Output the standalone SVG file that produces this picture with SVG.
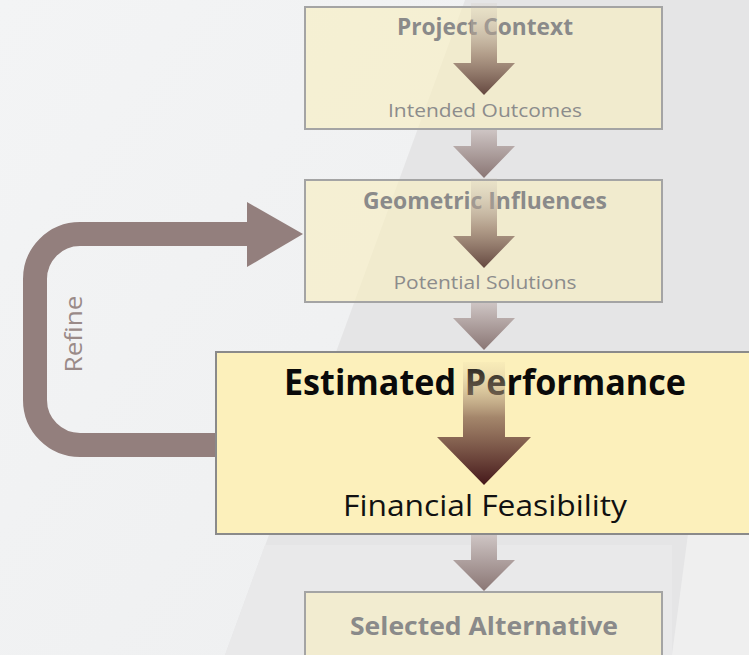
<svg xmlns="http://www.w3.org/2000/svg" width="749" height="655" viewBox="0 0 749 655">
<defs>
<linearGradient id="inFaded" x1="0" y1="0" x2="0" y2="1">
<stop offset="0" stop-color="#c9bfb2" stop-opacity="0.15"/>
<stop offset="0.55" stop-color="#a8917f" stop-opacity="0.85"/>
<stop offset="1" stop-color="#654840"/>
</linearGradient>
<linearGradient id="inMain" x1="0" y1="0" x2="0" y2="1">
<stop offset="0" stop-color="#d8c6a0" stop-opacity="0.1"/>
<stop offset="0.45" stop-color="#9a7a62" stop-opacity="0.9"/>
<stop offset="1" stop-color="#45181a"/>
</linearGradient>
<linearGradient id="between" x1="0" y1="0" x2="0" y2="1">
<stop offset="0" stop-color="#cfc6c5"/>
<stop offset="1" stop-color="#8a7674"/>
</linearGradient>
<linearGradient id="bgL" x1="0" y1="0" x2="1" y2="1">
<stop offset="0" stop-color="#f3f4f5"/>
<stop offset="1" stop-color="#eeeff0"/>
</linearGradient>
</defs>
<style>
.faded{fill:#f8eebe;fill-opacity:0.6;stroke:#a4a4a4;stroke-width:2}
.main{fill:#fcf0bb;stroke:#8a8a8a;stroke-width:2}
.t{font-family:"Open Sans","Liberation Sans",sans-serif;text-anchor:middle}
.fh{font-weight:bold;fill:#8a8a8a}
.fs{fill:#8c8c8c}
.mh{font-weight:bold;fill:#0a0a0a}
.ms{fill:#111}
</style>
<rect width="749" height="655" fill="#e5e5e6"/>
<polygon points="0,0 465,0 225,655 0,655" fill="url(#bgL)"/>
<polygon points="225,655 265,545 672,545 672,655" fill="#e9e9ea"/>
<polygon points="688,534 749,534 749,655 672,655" fill="#efefef"/>

<g id="connectors">
<path d="M216,445 L80,445 A45,45 0 0 1 35,400 L35,279 A45,45 0 0 1 80,234 L250,234" fill="none" stroke="#937f7d" stroke-width="24"/>
<polygon points="247,202 303,234 247,267" fill="#937f7d"/>
<path d="M471,129 L497,129 L497,146 L515,146 L484,178 L453,146 L471,146 Z" fill="url(#between)"/>
<path d="M471,302 L497,302 L497,318 L515,318 L484,350 L453,318 L471,318 Z" fill="url(#between)"/>
<path d="M471,534 L497,534 L497,560 L515,560 L484,591 L453,560 L471,560 Z" fill="url(#between)"/>
</g>

<g id="node-project-context">
<rect class="faded" x="305" y="7" width="357" height="122"/>
<text class="t fh" x="485" y="35" font-size="23" textLength="176" lengthAdjust="spacingAndGlyphs">Project Context</text>
<path d="M471,3 L497,3 L497,63 L515,63 L484,95 L453,63 L471,63 Z" fill="url(#inFaded)"/>
<text class="t fs" x="485" y="117" font-size="19" textLength="194" lengthAdjust="spacingAndGlyphs">Intended Outcomes</text>
</g>

<g id="node-geometric-influences">
<rect class="faded" x="305" y="180" width="357" height="122"/>
<text class="t fh" x="485" y="209" font-size="23" textLength="244" lengthAdjust="spacingAndGlyphs">Geometric Influences</text>
<path d="M471,178 L497,178 L497,236 L515,236 L484,268 L453,236 L471,236 Z" fill="url(#inFaded)"/>
<text class="t fs" x="485" y="289" font-size="19" textLength="183" lengthAdjust="spacingAndGlyphs">Potential Solutions</text>
</g>

<g id="node-estimated-performance">
<rect class="main" x="216" y="352" width="540" height="182"/>
<text class="t mh" x="485" y="395" font-size="35" textLength="402" lengthAdjust="spacingAndGlyphs">Estimated Performance</text>
<path d="M463,362 L505,362 L505,437 L531,437 L484,485 L437,437 L463,437 Z" fill="url(#inMain)"/>
<text class="t ms" x="485" y="516" font-size="30" textLength="284" lengthAdjust="spacingAndGlyphs">Financial Feasibility</text>
</g>

<g id="node-selected-alternative">
<rect class="faded" x="305" y="592" width="357" height="80"/>
<text class="t fh" x="484" y="635" font-size="25" textLength="268" lengthAdjust="spacingAndGlyphs">Selected Alternative</text>
</g>

<text class="t" x="82" y="334" font-size="23" fill="#9a8a88" transform="rotate(-90 82 334)" textLength="77" lengthAdjust="spacingAndGlyphs">Refine</text>
</svg>
